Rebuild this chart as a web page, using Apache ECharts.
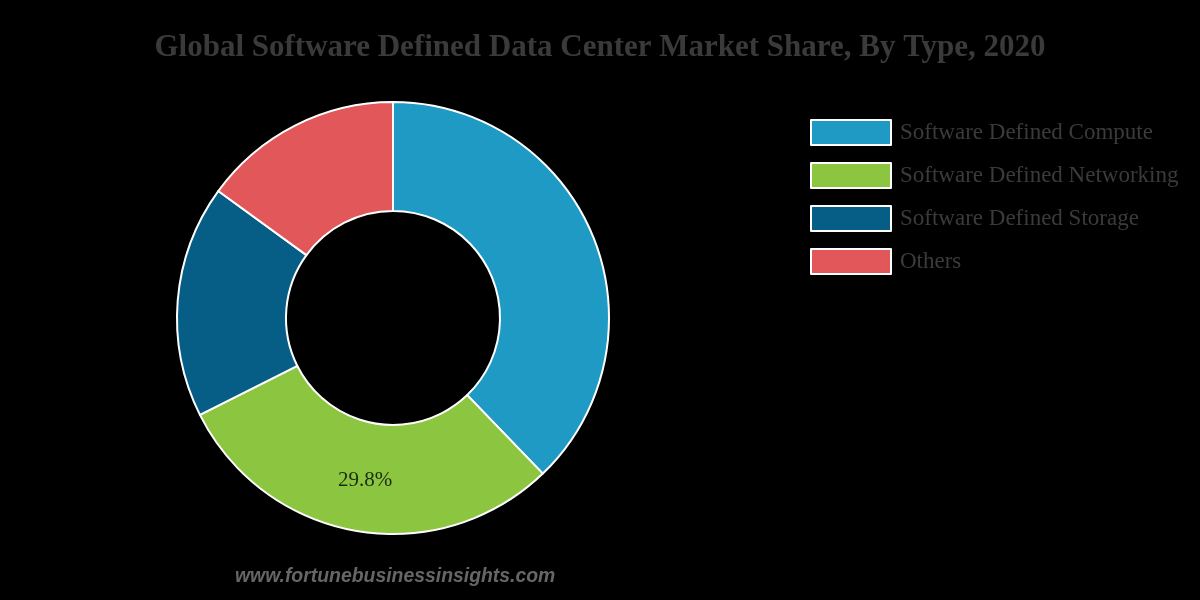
<!DOCTYPE html>
<html><head><meta charset="utf-8">
<script src="https://cdn.jsdelivr.net/npm/echarts@6/dist/echarts.min.js"></script>
<style>html,body{margin:0;padding:0;background:#000;}#c{width:1200px;height:600px;}</style>
</head><body><div id="c"></div>
<script>
const categories = ["Software Defined Compute", "Software Defined Networking", "Software Defined Storage", "Others"];
const values = [37.8, 29.8, 17.4, 15.0];
const labelShown = [false, true, false, false];
const colors = ["#1E9AC4", "#8CC540", "#065E86", "#E25759"];

const chart = echarts.init(document.getElementById('c'));
chart.setOption({
  backgroundColor: '#000',
  animation: false,
  title: {
    text: 'Global Software Defined Data Center Market Share, By Type, 2020',
    left: 'center', top: 27,
    textStyle: { fontFamily: 'Liberation Serif', fontWeight: 'bold', fontSize: 31, color: '#3a3a3a' }
  },
  legend: {
    orient: 'vertical', left: 805, top: 114,
    itemWidth: 80, itemHeight: 25, itemGap: 16,
    icon: 'rect',
    itemStyle: { borderColor: '#fff', borderWidth: 2 },
    textStyle: { fontFamily: 'Liberation Serif', fontSize: 23, color: '#3b3b3b', padding: [0,0,0,4] },
    data: categories
  },
  graphic: [{
    type: 'text', left: 235, top: 567,
    style: { text: 'www.fortunebusinessinsights.com', font: 'italic bold 19.4px "Liberation Sans"', fill: '#666' }
  }],
  series: [{
    type: 'pie',
    center: [393, 318],
    radius: [107, 216],
    startAngle: 90,
    clockwise: true,
    itemStyle: { borderColor: '#fff', borderWidth: 2 },
    label: { position: 'inside', fontFamily: 'Liberation Serif', fontSize: 21, color: '#1a2e0e', formatter: p => p.value.toFixed(1) + '%' },
    labelLine: { show: false },
    emphasis: { disabled: true },
    data: categories.map((n, i) => ({
      name: n, value: values[i],
      itemStyle: { color: colors[i] },
      label: { show: labelShown[i] }
    }))
  }]
});
</script></body></html>
